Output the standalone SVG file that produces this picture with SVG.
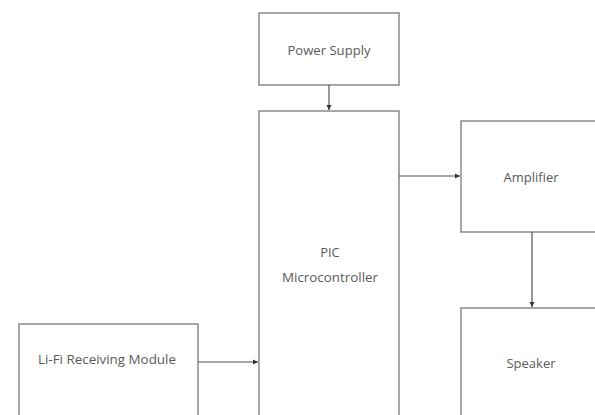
<svg xmlns="http://www.w3.org/2000/svg" width="595" height="415" viewBox="0 0 595 415">
<defs>
<marker id="ah" markerWidth="6" markerHeight="6" refX="5" refY="3" orient="auto" markerUnits="userSpaceOnUse">
<path d="M0,0.5 L5,3 L0,5.5 Z" fill="#333"/>
</marker>
<style>
.box{fill:#fff;stroke:#8a8a8a;stroke-width:1.5}
.lbl{font-family:"Open Sans","Liberation Sans",sans-serif;font-size:13px;fill:#5a5a5a;text-anchor:middle}
.con{stroke:#555;stroke-width:1.2;fill:none;marker-end:url(#ah)}
</style>
</defs>
<rect width="595" height="415" fill="#fff"/>
<g id="power-supply">
<rect class="box" x="259" y="13" width="140" height="72"/>
<text class="lbl" x="329" y="55" textLength="83" lengthAdjust="spacingAndGlyphs">Power Supply</text>
</g>
<g id="pic">
<rect class="box" x="259" y="111" width="140" height="320"/>
<text class="lbl" x="330" y="257">PIC</text>
<text class="lbl" x="330" y="282" textLength="96" lengthAdjust="spacingAndGlyphs">Microcontroller</text>
</g>
<g id="amplifier">
<rect class="box" x="461" y="121" width="150" height="111"/>
<text class="lbl" x="531" y="182">Amplifier</text>
</g>
<g id="speaker">
<rect class="box" x="461" y="308" width="150" height="120"/>
<text class="lbl" x="531" y="368">Speaker</text>
</g>
<g id="lifi">
<rect class="box" x="19" y="324" width="179" height="110"/>
<text class="lbl" x="107" y="364" textLength="138" lengthAdjust="spacingAndGlyphs">Li-Fi Receiving Module</text>
</g>
<g id="connectors">
<line class="con" x1="329" y1="85" x2="329" y2="110"/>
<line class="con" x1="399" y1="176" x2="460" y2="176"/>
<line class="con" x1="532" y1="232" x2="532" y2="307"/>
<line class="con" x1="198" y1="362" x2="258" y2="362"/>
</g>
</svg>
